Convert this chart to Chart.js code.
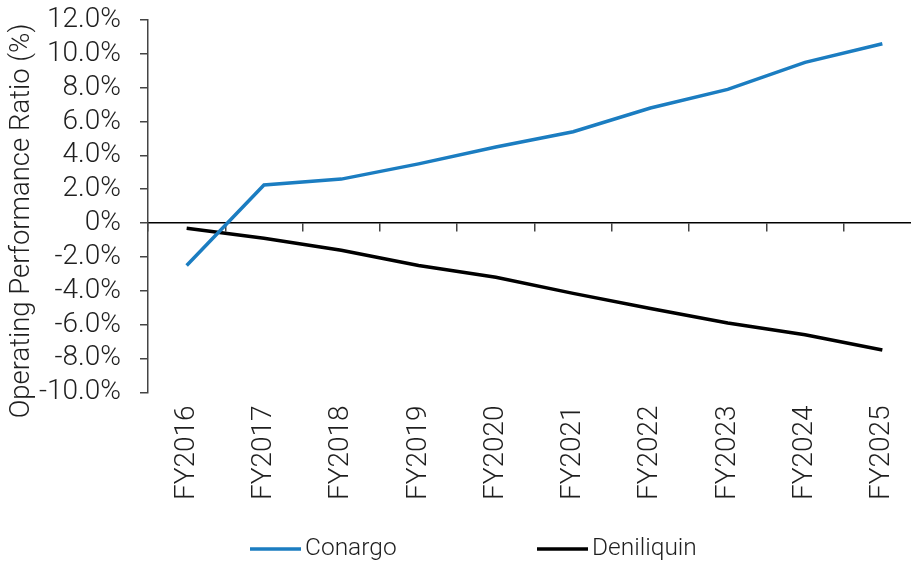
<!DOCTYPE html>
<html>
<head>
<meta charset="utf-8">
<title>Operating Performance Ratio</title>
<script src="https://cdn.jsdelivr.net/npm/chart.js@4/dist/chart.umd.min.js"></script>
<style>
  html, body { margin: 0; padding: 0; background: #ffffff; overflow: hidden; }
  #wrap { width: 921px; height: 562px; position: relative; }
</style>
</head>
<body>
<div id="wrap"><canvas id="chart" width="921" height="562"></canvas></div>
<script>
// Financial years on the horizontal axis
const years = ['FY2016', 'FY2017', 'FY2018', 'FY2019', 'FY2020',
               'FY2021', 'FY2022', 'FY2023', 'FY2024', 'FY2025'];

// Operating performance ratio (%) per council
const conargo    = [-2.5, 2.25, 2.6, 3.5, 4.5, 5.4, 6.8, 7.9, 9.5, 10.6];
const deniliquin = [-0.3, -0.9, -1.6, -2.5, -3.2, -4.15, -5.05, -5.9, -6.6, -7.5];

// Value axis range and tick step
const yMin = -10;
const yMax = 12;
const yStep = 2;

const yTitle = 'Operating Performance Ratio (%)';

const FONT = 'Roboto, "Liberation Sans", Arial, sans-serif';
const WEIGHT = 300;
const TEXT = '#1f1f1f';
const BLUE = '#1B7DC1';
const BLACK = '#000000';

function pctLabel(v) {
  return v === 0 ? '0%' : v.toFixed(1) + '%';
}

// Draws the rotated value-axis title and the legend row under the chart
const decorations = {
  id: 'decorations',
  afterDraw(chart) {
    const ctx = chart.ctx;
    ctx.save();
    // axis title
    ctx.font = WEIGHT + ' 27.5px ' + FONT;
    ctx.fillStyle = TEXT;
    ctx.textAlign = 'center';
    ctx.textBaseline = 'middle';
    ctx.translate(22, 221);
    ctx.rotate(-Math.PI / 2);
    ctx.fillText(yTitle, 0, 0);
    ctx.restore();

    // legend
    ctx.save();
    ctx.font = WEIGHT + ' 24.5px ' + FONT;
    ctx.textBaseline = 'middle';
    ctx.textAlign = 'left';
    const starts = [250, 537];
    const y = 549;
    chart.data.datasets.forEach((ds, i) => {
      const x = starts[i];
      ctx.strokeStyle = ds.borderColor;
      ctx.lineWidth = ds.borderWidth;
      ctx.beginPath();
      ctx.moveTo(x, y);
      ctx.lineTo(x + 51, y);
      ctx.stroke();
      ctx.fillStyle = TEXT;
      ctx.fillText(ds.label, x + 55, y);
    });
    ctx.restore();
  }
};

new Chart(document.getElementById('chart'), {
  type: 'line',
  data: {
    labels: years,
    datasets: [
      {
        label: 'Conargo',
        data: conargo,
        borderColor: BLUE,
        backgroundColor: BLUE,
        borderWidth: 3.5,
        pointRadius: 0,
        tension: 0,
        fill: false,
        xAxisID: 'x'
      },
      {
        label: 'Deniliquin',
        data: deniliquin,
        borderColor: BLACK,
        backgroundColor: BLACK,
        borderWidth: 3.5,
        pointRadius: 0,
        tension: 0,
        fill: false,
        xAxisID: 'x'
      }
    ]
  },
  options: {
    responsive: false,
    animation: false,
    events: [],
    layout: { padding: { top: 20, right: 0, bottom: 49, left: 0 } },
    plugins: {
      legend: { display: false },
      tooltip: { enabled: false },
      title: { display: false }
    },
    scales: {
      // category labels along the bottom
      x: {
        type: 'category',
        position: 'bottom',
        offset: true,
        grid: { display: false, drawTicks: false },
        border: { display: false },
        ticks: {
          minRotation: 90,
          maxRotation: 90,
          padding: 13,
          color: TEXT,
          font: { family: FONT, size: 28, weight: WEIGHT },
          autoSkip: false
        },
        afterFit(scale) {
          scale.paddingLeft = 0;
          scale.paddingRight = 0;
        }
      },
      // zero line with the category tick marks
      xZero: {
        type: 'category',
        labels: years,
        position: { y: 0 },
        offset: true,
        grid: {
          offset: true,
          drawOnChartArea: false,
          drawTicks: true,
          tickLength: 8,
          color: '#444444',
          lineWidth: 1.5
        },
        border: { display: true, color: '#000000', width: 1.5 },
        ticks: { display: false }
      },
      y: {
        type: 'linear',
        position: 'left',
        min: yMin,
        max: yMax,
        grid: {
          drawOnChartArea: false,
          drawTicks: true,
          tickLength: 8,
          color: '#444444',
          lineWidth: 1.5
        },
        border: { display: true, color: '#444444', width: 1.5 },
        ticks: {
          stepSize: yStep,
          autoSkip: false,
          padding: 19,
          color: TEXT,
          font: { family: FONT, size: 28, weight: WEIGHT },
          callback: (v) => pctLabel(v)
        },
        title: { display: false },
        afterFit(scale) {
          scale.width = 148;
          scale.paddingTop = 0;
          scale.paddingBottom = 0;
        }
      }
    }
  },
  plugins: [decorations]
});
</script>
</body>
</html>
